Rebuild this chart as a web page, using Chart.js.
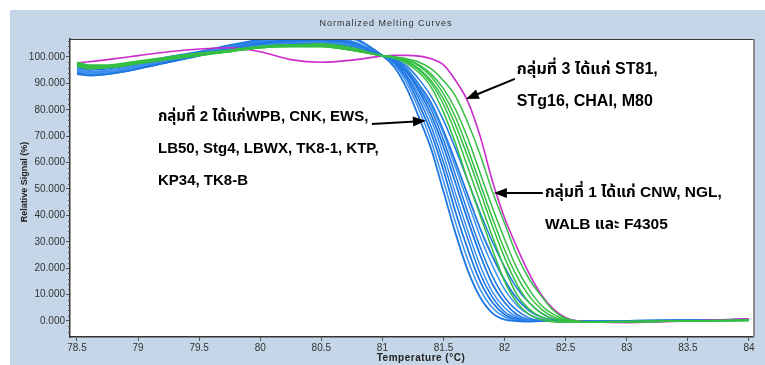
<!DOCTYPE html>
<html>
<head>
<meta charset="utf-8">
<script src="https://cdn.jsdelivr.net/npm/chart.js@4.4.0/dist/chart.umd.min.js"></script>
<style>
  html, body { margin: 0; padding: 0; background: #fff; }
  #panel { position: absolute; left: 10px; top: 10px; width: 755px; height: 355px; background: #c4d6e7; }
  canvas { display: block; }
</style>
</head>
<body>
<div id="panel"><canvas id="meltChart" width="755" height="355"></canvas></div>
<script>
// temperature grid (°C) shared by every curve
const temps = [78.5, 78.6, 78.75, 79, 79.25, 79.5, 79.75, 80, 80.25, 80.5, 80.75,
  81, 81.1, 81.2, 81.3, 81.4, 81.5, 81.6, 81.7, 81.8, 81.9, 82, 82.1, 82.2, 82.3, 82.4, 82.5,
  82.6, 82.75, 83, 83.5, 84];

// group 2 (blue)
const blue1 = [97, 96, 96.5, 98, 100, 102, 104.5, 106.5, 107.5, 108, 107,
  100.5, 96, 88, 77, 65, 49, 33, 19, 9, 3, 0.5, 0, -0.2, 0, 0, 0, 0, -0.2, 0, 0.2, 0.5];
const blue2 = [95.5, 94.5, 95, 97, 99.5, 101.5, 104, 106, 107, 107.5, 106,
  100.5, 97, 90, 80, 68, 53, 37, 23, 12, 5, 1.5, 0.2, 0, 0, 0, 0, 0, 0, 0, 0.3, 0.6];
const blue3 = [94, 93, 93.5, 95.5, 98, 100.5, 103.5, 106, 107.5, 108.5, 107.5,
  100.5, 97.5, 91.5, 82, 71, 57, 41, 27, 15, 7, 2.5, 0.5, 0, 0, 0, 0, -0.1, -0.2, 0, 0.2, 0.4];
const blue4 = [96.5, 95.5, 96, 97.5, 99.5, 101.5, 104, 105.5, 106.5, 106.5, 105.5,
  100.4, 98, 92.5, 84, 73.5, 60, 45, 31, 18, 9, 3.5, 1, 0, 0, 0, 0, 0, 0, 0.1, 0.2, 0.5];
const blue5 = [95, 94, 94.5, 96.5, 99, 101, 103.5, 105.5, 106.5, 107, 106,
  100.4, 98, 93, 85.5, 76, 63, 48, 34, 21, 11, 5, 1.5, 0.3, 0, 0, 0, 0, -0.1, 0, 0.2, 0.6];
const blue6 = [93.5, 93, 93.5, 95.5, 98, 100.5, 103, 105, 106, 106.5, 105.5,
  100.5, 98.3, 94, 87, 78, 66, 52, 38, 25, 14, 7, 2.5, 0.5, 0, 0, 0, 0, 0, 0, 0.1, 0.5];
const blue7 = [96, 95, 95.5, 97, 99, 101, 103.5, 105, 106, 106, 105,
  100.5, 98.5, 94.5, 88, 80, 68.5, 55, 41, 28, 17, 9, 4, 1.2, 0.2, 0, 0, 0, 0, 0.1, 0.3, 0.6];
const blue8 = [94.5, 93.5, 94, 96, 98.5, 100.5, 103, 104.5, 105.5, 105.5, 104.5,
  100.5, 98.7, 95, 89, 81.5, 71, 58, 45, 32, 21, 12, 6, 2.5, 0.7, 0, 0, 0, 0, 0, 0.2, 0.4];
const blue9 = [97.5, 96.5, 96.5, 97.5, 99.5, 101.5, 103.5, 105, 105.5, 105.5, 104.5,
  100.5, 99, 95.5, 89.5, 82.5, 72, 60, 47.5, 35, 24.5, 15.5, 8.5, 4, 1.5, 0.3, 0, 0, 0, 0, 0.2, 0.5];
const blue10 = [95, 94, 94.5, 96.5, 98.5, 100.5, 102.5, 104, 105, 105, 104,
  100.5, 99.2, 96.5, 91.5, 85, 76, 65, 53, 41, 30, 20.5, 12.5, 7, 3, 0.8, 0, 0, 0, 0, 0.2, 0.6];

// group 1 (green)
const green1 = [97.5, 96.5, 96.5, 98, 99.5, 101, 102.5, 104, 104.5, 104.5, 103,
  100.4, 99.5, 97.5, 94, 88.5, 79, 67, 53, 40, 27, 15, 7, 2.5, 0.5, -0.3, -0.5, -0.5, -0.3, -0.2, 0, 0.3];
const green2 = [97, 96, 96, 97.5, 99, 100.5, 102, 103.5, 104, 104, 102.5,
  100.4, 99.6, 98, 95, 90, 82, 71, 58, 45, 32, 20, 10, 4.5, 1.5, 0, -0.5, -0.5, -0.4, -0.2, 0, 0.2];
const green3 = [98, 97, 97, 98.5, 100, 101.5, 102.5, 104, 104.5, 105, 103.5,
  100.4, 99.7, 98.3, 95.5, 91, 84, 74, 62, 49, 36, 24, 14, 7, 3, 0.8, -0.2, -0.5, -0.5, -0.3, 0, 0.3];
const green4 = [96.5, 95.5, 96, 97.5, 99.5, 101, 102, 103.5, 104, 104, 102.5,
  100.5, 99.8, 98.7, 96.5, 92.5, 86, 77, 65, 52, 39, 27, 17, 9.5, 4.5, 1.5, 0.2, -0.4, -0.5, -0.3, 0, 0.2];
const green5 = [97.5, 96.5, 96.5, 98, 99.5, 101, 102.5, 104, 104.5, 104.5, 103,
  100.5, 100, 99, 97, 93.5, 88, 80, 69, 56, 43, 31, 20, 12, 6, 2.5, 0.6, -0.2, -0.5, -0.3, 0, 0.3];
const green6 = [97, 96, 96.5, 98, 99.5, 101, 102, 103.5, 104, 104, 102.5,
  100.5, 100, 99.3, 98, 95.5, 91, 85, 75, 63, 49, 37, 25, 16, 9.5, 4, 1, 0, -0.5, -0.3, 0, 0.2];

// group 3 (magenta)
const magenta1 = [97.8, 98.2, 99, 100.5, 102, 103, 103.5, 102, 99, 98, 98.8,
  100.3, 100.6, 100.6, 100.3, 99.3, 97, 91, 83, 70, 53, 39, 28, 18, 10, 4.5, 1.2, 0, -0.4, -0.6, 0, 0.8];

const xTicks = [78.5, 79, 79.5, 80, 80.5, 81, 81.5, 82, 82.5, 83, 83.5, 84];
const yTicks = [0, 10, 20, 30, 40, 50, 60, 70, 80, 90, 100];

const chartTitle = 'Normalized Melting Curves';
const xTitle = 'Temperature (°C)';
const yTitle = 'Relative Signal (%)';

// text notes with arrows, placed in data units
const notes = [
  { lines: ['กลุ่มที่ 2 ได้แก่WPB, CNK, EWS,', 'LB50, Stg4, LBWX, TK8-1, KTP,', 'KP34, TK8-B'],
    size: 15, at: [79.163, 77.3], from: [80.914, 74.6], to: [81.356, 75.8] },
  { lines: ['กลุ่มที่ 3 ได้แก่ ST81,', 'STg16, CHAI, M80'],
    size: 16, at: [82.10, 95.1], from: [82.084, 91.7], to: [81.683, 84.1] },
  { lines: ['กลุ่มที่ 1 ได้แก่ CNW, NGL,', 'WALB และ F4305'],
    size: 15.5, at: [82.33, 48.5], from: [82.313, 48.5], to: [81.912, 48.5] }
];

const BLUE = '#1f78e2';
const BLUE_LIGHT = '#3b8ff0';
const GREEN = '#35bf42';
const MAGENTA = '#cc2ccc';

function curve(vals, color, width) {
  return {
    data: temps.map((t, i) => ({ x: t, y: vals[i] })),
    borderColor: color,
    borderWidth: width || 1.5,
    pointRadius: 0,
    fill: false,
    cubicInterpolationMode: 'monotone'
  };
}

const datasets = [
  curve(green1, GREEN), curve(green2, GREEN), curve(green3, GREEN),
  curve(green4, GREEN), curve(green5, GREEN), curve(green6, GREEN),
  curve(magenta1, MAGENTA, 1.6),
  curve(blue1, BLUE, 1.8), curve(blue2, BLUE_LIGHT), curve(blue3, BLUE, 1.8),
  curve(blue4, BLUE), curve(blue5, BLUE_LIGHT), curve(blue6, BLUE, 1.8),
  curve(blue7, BLUE), curve(blue8, BLUE_LIGHT), curve(blue9, BLUE, 1.8),
  curve(blue10, BLUE)
];

function drawArrow(ctx, x1, y1, x2, y2) {
  const a = Math.atan2(y2 - y1, x2 - x1);
  const L = 13, W = 5;
  ctx.beginPath();
  ctx.moveTo(x1, y1);
  ctx.lineTo(x2 - L * 0.8 * Math.cos(a), y2 - L * 0.8 * Math.sin(a));
  ctx.stroke();
  ctx.beginPath();
  ctx.moveTo(x2, y2);
  ctx.lineTo(x2 - L * Math.cos(a) + W * Math.sin(a), y2 - L * Math.sin(a) - W * Math.cos(a));
  ctx.lineTo(x2 - L * Math.cos(a) - W * Math.sin(a), y2 - L * Math.sin(a) + W * Math.cos(a));
  ctx.closePath();
  ctx.fill();
}

const frame = {
  id: 'frame',
  beforeDraw(chart) {
    const { ctx, chartArea: a } = chart;
    ctx.save();
    ctx.fillStyle = '#fff';
    ctx.fillRect(a.left, a.top, a.right - a.left, a.bottom - a.top);
    ctx.restore();
  },
  afterDraw(chart) {
    const { ctx, chartArea: a, scales } = chart;
    ctx.save();
    // top and right edges of the plot box
    ctx.strokeStyle = '#3a3a3a';
    ctx.lineWidth = 1;
    ctx.beginPath();
    ctx.moveTo(a.left, a.top + 0.5);
    ctx.lineTo(a.right, a.top + 0.5);
    ctx.stroke();
    ctx.strokeStyle = '#8a8a8a';
    ctx.lineWidth = 2;
    ctx.beginPath();
    ctx.moveTo(a.right + 1, a.top);
    ctx.lineTo(a.right + 1, a.bottom);
    ctx.stroke();

    // minor ticks on the y axis
    ctx.strokeStyle = '#555';
    ctx.lineWidth = 1;
    for (let v = -4; v <= 106; v += 2) {
      if (v % 10 === 0) continue;
      const y = Math.round(scales.y.getPixelForValue(v)) + 0.5;
      ctx.beginPath();
      ctx.moveTo(a.left - 2, y);
      ctx.lineTo(a.left, y);
      ctx.stroke();
    }

    // titles
    ctx.fillStyle = '#333';
    ctx.textAlign = 'center';
    ctx.textBaseline = 'middle';
    ctx.font = '9px "Liberation Sans", Arial, sans-serif';
    ctx.letterSpacing = '1px';
    ctx.fillText(chartTitle, 376, 14);
    ctx.letterSpacing = '0.5px';
    ctx.font = 'bold 10px "Liberation Sans", Arial, sans-serif';
    ctx.fillStyle = '#222';
    ctx.fillText(xTitle, 411, 348);
    ctx.letterSpacing = '0px';
    ctx.font = 'bold 9px "Liberation Sans", Arial, sans-serif';
    ctx.translate(15, 172);
    ctx.rotate(-Math.PI / 2);
    ctx.fillText(yTitle, 0, 0);
    ctx.restore();

    // notes and arrows
    ctx.save();
    ctx.fillStyle = '#000';
    ctx.strokeStyle = '#000';
    ctx.lineWidth = 2;
    ctx.textAlign = 'left';
    ctx.textBaseline = 'middle';
    notes.forEach(n => {
      ctx.font = 'bold ' + n.size + 'px "Liberation Sans", "Noto Sans Thai", "Noto Sans", sans-serif';
      const x = scales.x.getPixelForValue(n.at[0]);
      const y = scales.y.getPixelForValue(n.at[1]);
      n.lines.forEach((line, i) => ctx.fillText(line, x, y + i * 32));
      drawArrow(ctx,
        scales.x.getPixelForValue(n.from[0]), scales.y.getPixelForValue(n.from[1]),
        scales.x.getPixelForValue(n.to[0]), scales.y.getPixelForValue(n.to[1]));
    });
    ctx.restore();
  }
};

Chart.defaults.font.family = '"Liberation Sans", Arial, sans-serif';

new Chart(document.getElementById('meltChart'), {
  type: 'line',
  data: { datasets },
  options: {
    responsive: false,
    animation: false,
    layout: { padding: { top: 29, right: 12, left: 0, bottom: 0 } },
    plugins: { legend: { display: false }, tooltip: { enabled: false } },
    scales: {
      x: {
        type: 'linear',
        min: 78.443,
        max: 84.033,
        afterFit: s => { s.height = 28; },
        afterBuildTicks: s => { s.ticks = xTicks.map(v => ({ value: v })); },
        grid: { drawOnChartArea: false, drawTicks: true, tickLength: 4, color: '#555' },
        border: { display: true, color: '#333', width: 1.5 },
        ticks: { color: '#333', font: { size: 10 }, padding: 1, maxRotation: 0, autoSkip: false,
          callback: v => String(v) }
      },
      y: {
        min: -6.06,
        max: 106.8,
        afterFit: s => { s.width = 60; },
        afterBuildTicks: s => { s.ticks = yTicks.map(v => ({ value: v })); },
        grid: { drawOnChartArea: false, drawTicks: true, tickLength: 4, color: '#555' },
        border: { display: true, color: '#333', width: 1.5 },
        ticks: { color: '#333', font: { size: 10 }, padding: 1, autoSkip: false,
          callback: v => v.toFixed(3) }
      }
    }
  },
  plugins: [frame]
});
</script>
</body>
</html>
